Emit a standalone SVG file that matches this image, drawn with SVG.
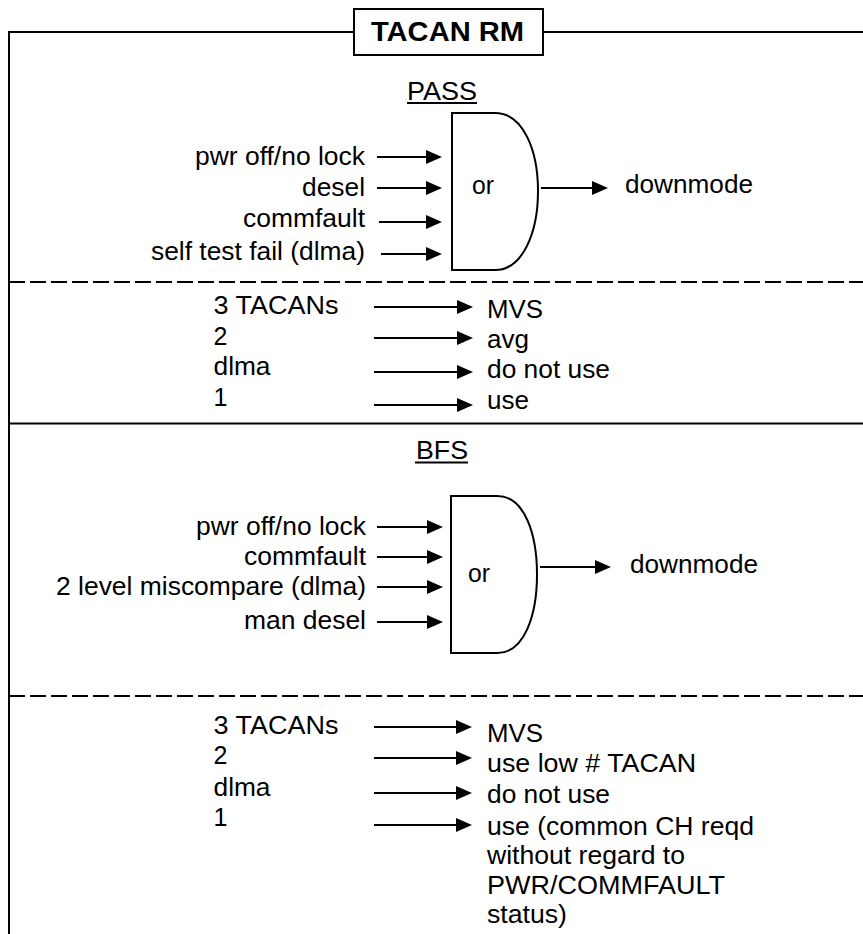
<svg xmlns="http://www.w3.org/2000/svg" width="863" height="934" viewBox="0 0 863 934">
<style>
text{font-family:"Liberation Sans",Arial,sans-serif;font-size:25px;fill:#000}
.t{font-size:27px;font-weight:bold}
.ln{stroke:#000;stroke-width:2;fill:none}
.ds{stroke:#000;stroke-width:2;fill:none;stroke-dasharray:16 5}
.ar{stroke:#000;stroke-width:2;fill:none;marker-end:url(#ah)}
.gate{stroke:#000;stroke-width:2;fill:#fff}
</style>
<defs>
<marker id="ah" markerWidth="16" markerHeight="14" refX="6" refY="7" orient="auto" markerUnits="userSpaceOnUse">
<path d="M0,0 L16,7 L0,14 Z" fill="#000"/>
</marker>
</defs>
<rect width="863" height="934" fill="#fff"/>
<g id="frame">
<path class="ln" d="M9,934 V32 H354 M543,32 H863"/>
<line class="ds" x1="9" y1="282" x2="863" y2="282"/>
<line class="ln" x1="9" y1="423.5" x2="863" y2="423.5"/>
<line class="ds" x1="9" y1="696" x2="863" y2="696"/>
</g>
<g id="title">
<rect class="ln" x="354" y="9" width="189" height="46"/>
<text class="t" x="371" y="41" textLength="153" lengthAdjust="spacingAndGlyphs">TACAN RM</text>
</g>
<g id="pass-heading">
<text x="407" y="99.5" textLength="70" lengthAdjust="spacingAndGlyphs">PASS</text>
<line x1="407" y1="103" x2="477" y2="103" stroke="#000" stroke-width="1.8"/>
</g>
<g id="pass-inputs">
<text x="195" y="165" textLength="170" lengthAdjust="spacingAndGlyphs">pwr off/no lock</text>
<text x="302" y="196" textLength="63" lengthAdjust="spacingAndGlyphs">desel</text>
<text x="243" y="227" textLength="122" lengthAdjust="spacingAndGlyphs">commfault</text>
<text x="151" y="260" textLength="214" lengthAdjust="spacingAndGlyphs">self test fail (dlma)</text>
</g>
<g id="pass-or">
<path class="gate" d="M452,113 H495 C523,113 538,150 538,191 C538,232 523,270 495,270 H452 Z"/>
<text x="472" y="193.5" textLength="22" lengthAdjust="spacingAndGlyphs">or</text>
</g>
<g id="pass-output">
<text x="625" y="193" textLength="128" lengthAdjust="spacingAndGlyphs">downmode</text>
</g>
<g id="pass-table">
<text x="213.5" y="314" textLength="125" lengthAdjust="spacingAndGlyphs">3 TACANs</text>
<text x="213.5" y="345">2</text>
<text x="213.5" y="375" textLength="57" lengthAdjust="spacingAndGlyphs">dlma</text>
<text x="213.5" y="405.5">1</text>
<text x="487" y="317.5" textLength="56" lengthAdjust="spacingAndGlyphs">MVS</text>
<text x="487" y="347.5" textLength="42" lengthAdjust="spacingAndGlyphs">avg</text>
<text x="487" y="378" textLength="123" lengthAdjust="spacingAndGlyphs">do not use</text>
<text x="487" y="409" textLength="42" lengthAdjust="spacingAndGlyphs">use</text>
</g>
<g id="bfs-heading">
<text x="416" y="458.5" textLength="52" lengthAdjust="spacingAndGlyphs">BFS</text>
<line x1="415" y1="462.5" x2="468" y2="462.5" stroke="#000" stroke-width="1.8"/>
</g>
<g id="bfs-inputs">
<text x="196" y="535" textLength="170" lengthAdjust="spacingAndGlyphs">pwr off/no lock</text>
<text x="244" y="565" textLength="122" lengthAdjust="spacingAndGlyphs">commfault</text>
<text x="56" y="595" textLength="310" lengthAdjust="spacingAndGlyphs">2 level miscompare (dlma)</text>
<text x="244" y="628.5" textLength="122" lengthAdjust="spacingAndGlyphs">man desel</text>
</g>
<g id="bfs-or">
<path class="gate" d="M451,496 H497 C525,496 537,535 537,574.5 C537,614 525,653 497,653 H451 Z"/>
<text x="468" y="582" textLength="22" lengthAdjust="spacingAndGlyphs">or</text>
</g>
<g id="bfs-output">
<text x="630" y="573" textLength="128" lengthAdjust="spacingAndGlyphs">downmode</text>
</g>
<g id="bfs-table">
<text x="213.5" y="734" textLength="125" lengthAdjust="spacingAndGlyphs">3 TACANs</text>
<text x="213.5" y="764">2</text>
<text x="213.5" y="796" textLength="57" lengthAdjust="spacingAndGlyphs">dlma</text>
<text x="213.5" y="826">1</text>
<text x="487" y="741.5" textLength="56" lengthAdjust="spacingAndGlyphs">MVS</text>
<text x="487" y="771.5" textLength="209" lengthAdjust="spacingAndGlyphs">use low # TACAN</text>
<text x="487" y="802.5" textLength="123" lengthAdjust="spacingAndGlyphs">do not use</text>
<text x="487" y="835" textLength="267" lengthAdjust="spacingAndGlyphs">use (common CH reqd</text>
<text x="487" y="864" textLength="198" lengthAdjust="spacingAndGlyphs">without regard to</text>
<text x="487" y="893.5" textLength="238" lengthAdjust="spacingAndGlyphs">PWR/COMMFAULT</text>
<text x="487" y="922.5" textLength="80" lengthAdjust="spacingAndGlyphs">status)</text>
</g>
<g id="connectors">
<line class="ar" x1="377" y1="157" x2="432" y2="157"/>
<line class="ar" x1="377" y1="188" x2="432" y2="188"/>
<line class="ar" x1="379" y1="222" x2="432" y2="222"/>
<line class="ar" x1="381" y1="254" x2="432" y2="254"/>
<line class="ar" x1="541" y1="188" x2="598" y2="188"/>
<line class="ar" x1="374" y1="307" x2="463" y2="307"/>
<line class="ar" x1="374" y1="338" x2="463" y2="338"/>
<line class="ar" x1="374" y1="372" x2="463" y2="372"/>
<line class="ar" x1="374" y1="405" x2="463" y2="405"/>
<line class="ar" x1="377" y1="527" x2="433" y2="527"/>
<line class="ar" x1="377" y1="557" x2="433" y2="557"/>
<line class="ar" x1="377" y1="587" x2="433" y2="587"/>
<line class="ar" x1="377" y1="622" x2="433" y2="622"/>
<line class="ar" x1="540" y1="567" x2="601" y2="567"/>
<line class="ar" x1="374" y1="727" x2="462" y2="727"/>
<line class="ar" x1="374" y1="758" x2="462" y2="758"/>
<line class="ar" x1="374" y1="793" x2="462" y2="793"/>
<line class="ar" x1="374" y1="825" x2="462" y2="825"/>
</g>
</svg>
